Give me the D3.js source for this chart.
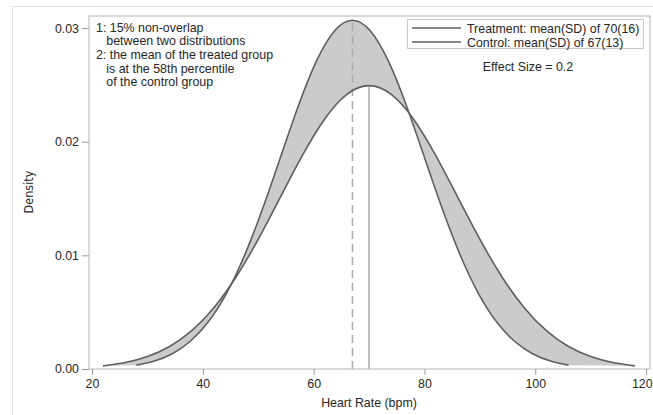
<!DOCTYPE html>
<html>
<head>
<meta charset="utf-8">
<script src="https://cdn.jsdelivr.net/npm/d3@7"></script>
<style>
  body { margin: 0; background: #fff; }
  text { font-family: "Liberation Sans", Arial, sans-serif; fill: #262626; }
</style>
</head>
<body>
<div id="chart"></div>
<script>
// Treatment curve, mean(SD) 70(16), density
var treat_x = [22, 26, 30, 34, 38, 42, 46, 50, 54, 58, 62, 66, 70,
               74, 78, 82, 86, 90, 94, 98, 102, 106, 110, 114, 118];
var treat_y = [0.000277, 0.000568, 0.001096, 0.001984, 0.003375, 0.005392, 0.008095,
               0.011416, 0.015123, 0.018821, 0.022004, 0.024167, 0.024934,
               0.024167, 0.022004, 0.018821, 0.015123, 0.011416, 0.008095,
               0.005392, 0.003375, 0.001984, 0.001096, 0.000568, 0.000277];

// Control curve, mean(SD) 67(13)
var ctrl_x = [28, 31.25, 34.5, 37.75, 41, 44.25, 47.5, 50.75, 54, 57.25, 60.5, 63.75, 67,
              70.25, 73.5, 76.75, 80, 83.25, 86.5, 89.75, 93, 96.25, 99.5, 102.75, 106];
var ctrl_y = [0.000341, 0.000700, 0.001348, 0.002442, 0.004153, 0.006637, 0.009963,
              0.014050, 0.018613, 0.023165, 0.027082, 0.029744, 0.030688,
              0.029744, 0.027082, 0.023165, 0.018613, 0.014050, 0.009963,
              0.006637, 0.004153, 0.002442, 0.001348, 0.000700, 0.000341];

var means = [70, 67];        // treatment, control
var x_ticks = [20, 40, 60, 80, 100, 120];
var y_ticks = [0, 0.01, 0.02, 0.03];
var legend_labels = ["Treatment: mean(SD) of 70(16)", "Control: mean(SD) of 67(13)"];
var notes = ["1: 15% non-overlap", "   between two distributions",
             "2: the mean of the treated group", "   is at the 58th percentile",
             "   of the control group"];
var effect_label = "Effect Size = 0.2";

// Frame
var margin = {top: 16, right: 3, bottom: 46, left: 89};
var W = 653, H = 415;
var width = W - margin.left - margin.right;
var height = H - margin.top - margin.bottom;
var fs = 12.4;

var svg = d3.select("#chart").append("svg")
            .attr("width", W)
            .attr("height", H);

// outer light border
svg.append("rect")
   .attr("x", 12.5).attr("y", 6.5)
   .attr("width", 700).attr("height", 500)
   .attr("fill", "none").attr("stroke", "#e3e3e3");

var g = svg.append("g")
           .attr("transform", "translate(" + margin.left + "," + margin.top + ")");

var x = d3.scaleLinear().domain([19.46, 120.7]).range([0, width]);
var y = d3.scaleLinear().domain([0, 0.03106]).range([height, 0]);

var treat = treat_x.map((d, i) => [d, treat_y[i]]);
var ctrl = ctrl_x.map((d, i) => [d, ctrl_y[i]]);

var line = d3.line()
             .x(d => x(d[0]))
             .y(d => y(d[1]))
             .curve(d3.curveNatural);

// shaded band between the two curves
var band = line(treat) + "L" + line(ctrl.slice().reverse()).slice(1) + "Z";
g.append("path")
 .attr("d", band)
 .attr("fill", "#cbcbcb")
 .attr("fill-rule", "nonzero")
 .attr("stroke", "none");

// mean lines
g.append("line")
 .attr("x1", x(means[1])).attr("x2", x(means[1]))
 .attr("y1", y(0)).attr("y2", y(d3.max(ctrl_y)))
 .attr("stroke", "#aaa").attr("stroke-width", 1.5)
 .attr("stroke-dasharray", "8 5");
g.append("line")
 .attr("x1", x(means[0])).attr("x2", x(means[0]))
 .attr("y1", y(0)).attr("y2", y(d3.max(treat_y)))
 .attr("stroke", "#aaa").attr("stroke-width", 1.5);

// curves
g.append("path").attr("d", line(treat))
 .attr("fill", "none").attr("stroke", "#5f5f5f").attr("stroke-width", 1.6);
g.append("path").attr("d", line(ctrl))
 .attr("fill", "none").attr("stroke", "#5f5f5f").attr("stroke-width", 1.6);

// frame
g.append("rect")
 .attr("x", 0).attr("y", 0)
 .attr("width", width).attr("height", height)
 .attr("fill", "none").attr("stroke", "#b5b5b5");

// axes
var xAxis = g.append("g")
             .attr("transform", "translate(0," + height + ")")
             .call(d3.axisBottom(x).tickValues(x_ticks).tickSize(6).tickSizeOuter(0).tickPadding(4));
var yAxis = g.append("g")
             .call(d3.axisLeft(y).tickValues(y_ticks).tickFormat(d3.format(".2f")).tickSize(7).tickSizeOuter(0).tickPadding(3));

[xAxis, yAxis].forEach(a => {
  a.select(".domain").remove();
  a.selectAll("line").attr("stroke", "#999");
  a.selectAll("text").attr("font-size", fs).attr("fill", "#3a3a3a")
   .style("font-family", "'Liberation Sans', Arial, sans-serif");
});
// last x label sits at the right edge of the window
xAxis.selectAll(".tick").filter(d => d === 120).select("text")
     .attr("text-anchor", "end").attr("dx", "6");

// axis titles
svg.append("text")
   .attr("x", 369).attr("y", 407)
   .attr("text-anchor", "middle")
   .attr("font-size", fs)
   .text("Heart Rate (bpm)");

svg.append("text")
   .attr("transform", "translate(33,192) rotate(-90)")
   .attr("text-anchor", "middle")
   .attr("font-size", 12.5)
   .style("font-family", "'Liberation Sans Narrow', 'DejaVu Sans Condensed', sans-serif")
   .text("Density");

// notes top-left
svg.append("g").selectAll("text")
   .data(notes)
   .enter().append("text")
   .attr("x", 96)
   .attr("y", (d, i) => 31.5 + i * 13.7)
   .attr("font-size", fs)
   .style("white-space", "pre")
   .text(d => d);

// legend
var legend = svg.append("g");
legend.append("rect")
      .attr("x", 407.5).attr("y", 19.5)
      .attr("width", 236).attr("height", 29)
      .attr("fill", "#fff").attr("stroke", "#c8c8c8");
legend_labels.forEach((lab, i) => {
  var ly = 28 + i * 14;
  legend.append("line")
        .attr("x1", 412).attr("x2", 461)
        .attr("y1", ly).attr("y2", ly)
        .attr("stroke", "#5f5f5f").attr("stroke-width", 1.6);
  legend.append("text")
        .attr("x", 467).attr("y", ly + 4.5)
        .attr("font-size", fs)
        .text(lab);
});

svg.append("text")
   .attr("x", 528).attr("y", 70.5)
   .attr("text-anchor", "middle")
   .attr("font-size", fs)
   .text(effect_label);
</script>
</body>
</html>
